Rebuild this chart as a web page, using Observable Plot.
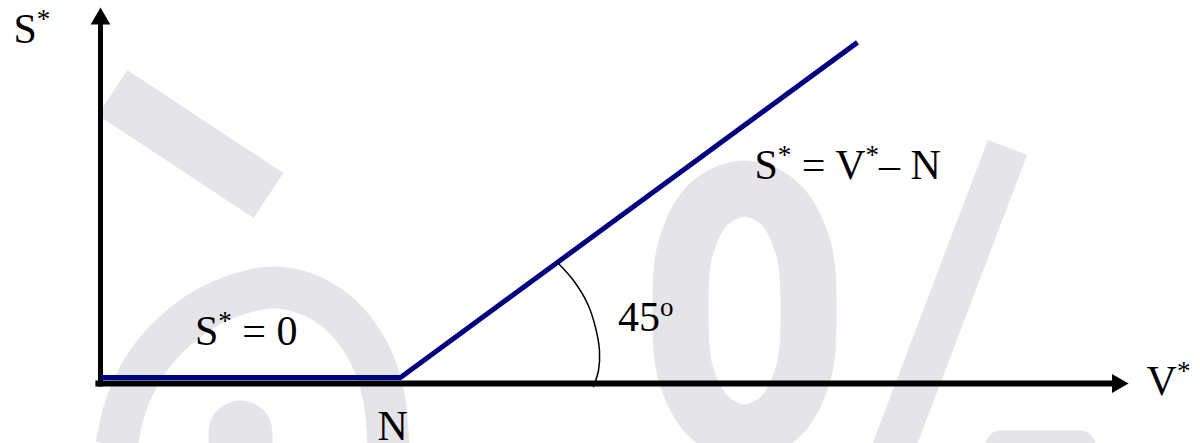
<!DOCTYPE html>
<html>
<head>
<meta charset="utf-8">
<script src="https://cdn.jsdelivr.net/npm/d3@7"></script>
<script src="https://cdn.jsdelivr.net/npm/@observablehq/plot@0.6"></script>
<style>
  html, body { margin: 0; padding: 0; background: #ffffff; }
  #chart svg { display: block; background: #ffffff; }
</style>
</head>
<body>
<div id="chart"></div>
<script>
// ---- Data (V* on x, S* on y; N = 10 units) ----
const responseCurve = [
  {v: 0, s: 0},
  {v: 10, s: 0},
  {v: 25.233, s: 15.233}
];
const verticalAxis = [ {v: 0, s: -0.41}, {v: 0, s: 16.2} ];
const horizontalAxis = [ {v: -0.17, s: -0.273}, {v: 33.8, s: -0.273} ];
const arrowUp = [ {v: 0, s: 16.3} ];
const arrowRight = [ {v: 33.9, s: -0.273} ];
const angleArc = [
  {v: 15.233, s: 5.227}, {v: 15.767, s: 4.409}, {v: 16.233, s: 3.364},
  {v: 16.5, s: 2.273}, {v: 16.633, s: 1.227}, {v: 16.6, s: 0.318}, {v: 16.433, s: -0.409}
];
const labels = [
  {v: -2.9, s: 15.182, label: "S^*"},
  {v: 21.8, s: 9.0, label: "S^* = V^*– N"},
  {v: 3.15, s: 1.455, label: "S^* = 0"},
  {v: 17.25, s: 2.136, label: "45^o"},
  {v: 9.23, s: -2.82, label: "N"},
  {v: 34.87, s: -0.818, label: "V^*"}
];

// ---- Background watermark strokes (light grey) ----
const watermarkDiagonal = [ {v: 0.4, s: 12.955}, {v: 5.6, s: 8.273} ];
const watermarkArch = [
  {v: 0.533, s: -3.091}, {v: 0.9, s: -1.045}, {v: 1.6, s: 0.773}, {v: 2.5, s: 2.136},
  {v: 3.5, s: 3.136}, {v: 4.667, s: 3.818}, {v: 5.733, s: 4.091}, {v: 6.833, s: 3.818},
  {v: 7.833, s: 3.045}, {v: 8.6, s: 1.909}, {v: 9.1, s: 0.682}, {v: 9.433, s: -0.818},
  {v: 9.6, s: -3.091}
];
const watermarkBump = [ {v: 4.667, s: -2.5}, {v: 4.667, s: -4.227} ];
const watermarkZero = [
  {v: 23.6, s: 3.045}, {v: 23.433, s: 5.864}, {v: 22.633, s: 7.909}, {v: 21.467, s: 8.591},
  {v: 20.3, s: 7.909}, {v: 19.5, s: 5.864}, {v: 19.333, s: 3.045}, {v: 19.5, s: 0.227},
  {v: 20.3, s: -1.818}, {v: 21.467, s: -2.5}, {v: 22.633, s: -1.818}, {v: 23.433, s: 0.227}
];
const watermarkSlash = [ {v: 30.233, s: 10.455}, {v: 26.333, s: -3.545} ];
const watermarkBar = [ {v: 30, s: -3.091}, {v: 32.667, s: -3.091} ];

const wm = "#e5e4e8";
const navy = "#000080";
const serif = "'Liberation Serif', 'Times New Roman', serif";

const chart = Plot.plot({
  width: 1200,
  height: 443,
  margin: 0,
  x: {domain: [-3.3333, 36.6667], axis: null},
  y: {domain: [-3, 17.136], axis: null},
  style: {background: "#ffffff"},
  marks: [
    Plot.line(watermarkDiagonal, {x: "v", y: "s", stroke: wm, strokeWidth: 54, strokeLinecap: "butt"}),
    Plot.line(watermarkArch, {x: "v", y: "s", stroke: wm, strokeWidth: 42, strokeLinecap: "butt", curve: "catmull-rom"}),
    Plot.line(watermarkBump, {x: "v", y: "s", stroke: wm, strokeWidth: 64, strokeLinecap: "round"}),
    Plot.line(watermarkZero, {x: "v", y: "s", stroke: wm, strokeWidth: 56, curve: "catmull-rom-closed"}),
    Plot.line(watermarkSlash, {x: "v", y: "s", stroke: wm, strokeWidth: 42, strokeLinecap: "butt"}),
    Plot.line(watermarkBar, {x: "v", y: "s", stroke: wm, strokeWidth: 30, strokeLinecap: "round"}),
    Plot.line(verticalAxis, {x: "v", y: "s", stroke: "black", strokeWidth: 5, strokeLinecap: "butt"}),
    Plot.line(horizontalAxis, {x: "v", y: "s", stroke: "black", strokeWidth: 6, strokeLinecap: "butt"}),
    Plot.dot(arrowUp, {x: "v", y: "s", symbol: "triangle", r: 7.3, fill: "black", stroke: "none"}),
    Plot.dot(arrowRight, {x: "v", y: "s", symbol: "triangle", r: 7.1, fill: "black", stroke: "none", rotate: 90}),
    Plot.line(responseCurve, {x: "v", y: "s", stroke: navy, strokeWidth: 5, strokeLinecap: "butt", strokeLinejoin: "miter"}),
    Plot.line(angleArc, {x: "v", y: "s", stroke: "black", strokeWidth: 1.5, curve: "catmull-rom"}),
    Plot.text(labels, {x: "v", y: "s", text: "label", textAnchor: "start", lineAnchor: "bottom",
      fontSize: 42, fontFamily: serif, fill: "black"})
  ]
});

// superscripts: "^x" -> raised, smaller character
const NS = "http://www.w3.org/2000/svg";
chart.querySelectorAll("text").forEach(t => {
  const raw = t.textContent;
  if (!raw.includes("^")) return;
  t.textContent = "";
  const parts = raw.split(/(\^.)/).filter(p => p.length);
  let raised = false;
  parts.forEach(p => {
    const ts = document.createElementNS(NS, "tspan");
    if (p[0] === "^") {
      ts.textContent = p.slice(1);
      ts.setAttribute("font-size", "27");
      if (!raised) ts.setAttribute("dy", "-15");
      raised = true;
    } else {
      ts.textContent = p;
      if (raised) ts.setAttribute("dy", "15");
      raised = false;
    }
    t.appendChild(ts);
  });
});

document.getElementById("chart").appendChild(chart);
</script>
</body>
</html>
